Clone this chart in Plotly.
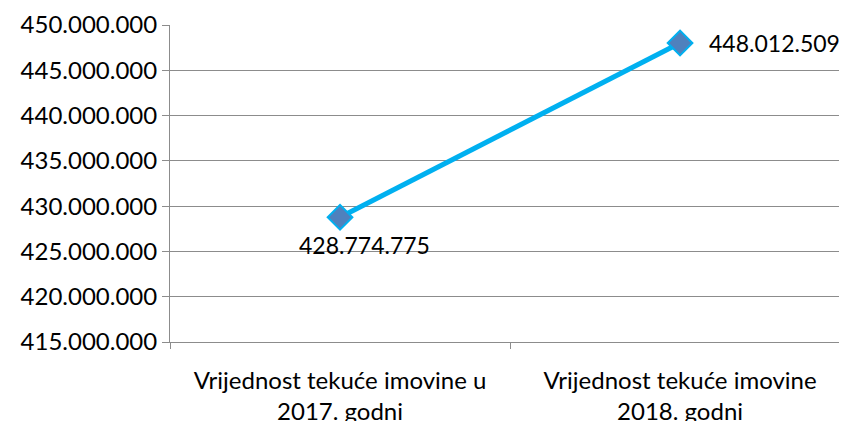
import plotly.graph_objects as go

categories = ["Vrijednost tekuće imovine u<br>2017. godni", "Vrijednost tekuće imovine<br>2018. godni"]
values = [428774775, 448012509]
y_ticks = [415000000, 420000000, 425000000, 430000000, 435000000, 440000000, 445000000, 450000000]

def fmt(v):
    return f"{v:,}".replace(",", ".")

labels = [fmt(v) for v in values]
FONT = "Lato"
GRID = "#8c8c8c"
FS = 24

fig = go.Figure()
fig.add_trace(go.Scatter(
    x=categories, y=values,
    mode="lines+markers",
    line=dict(color="#00B0F0", width=5),
    marker=dict(symbol="diamond", size=19, color="#4F81BD", line=dict(color="#00B0F0", width=2)),
    cliponaxis=False,
))

fig.add_annotation(x=categories[0], y=values[0], text=labels[0], showarrow=False,
                   xanchor="center", yanchor="top", xshift=24, yshift=-12,
                   font=dict(family=FONT, size=23, color="#000000"))
fig.add_annotation(x=categories[1], y=values[1], text=labels[1], showarrow=False,
                   xanchor="left", yanchor="middle", xshift=27, yshift=0,
                   font=dict(family=FONT, size=23, color="#000000"))

fig.update_layout(
    width=847, height=421,
    margin=dict(l=162, r=8, t=17, b=87),
    paper_bgcolor="white", plot_bgcolor="white",
    showlegend=False,
    font=dict(family=FONT, size=FS, color="#000000"),
)
fig.update_xaxes(
    type="category", range=[-0.5, 1.491], automargin=False,
    showline=True, linecolor=GRID, linewidth=1,
    ticks="outside", tickson="boundaries", ticklen=6, tickcolor=GRID,
    ticklabelstandoff=17,
    showgrid=False, tickfont=dict(family=FONT, size=FS, color="#000000"),
)
fig.update_yaxes(
    range=[415000000, 450000000], automargin=False,
    tickvals=y_ticks, ticktext=[fmt(v) for v in y_ticks],
    showline=True, linecolor=GRID, linewidth=1,
    ticks="outside", ticklen=7, tickcolor=GRID,
    showgrid=True, gridcolor=GRID, gridwidth=1,
    zeroline=False, tickfont=dict(family=FONT, size=FS, color="#000000"),
)
fig.write_html("out.html")
